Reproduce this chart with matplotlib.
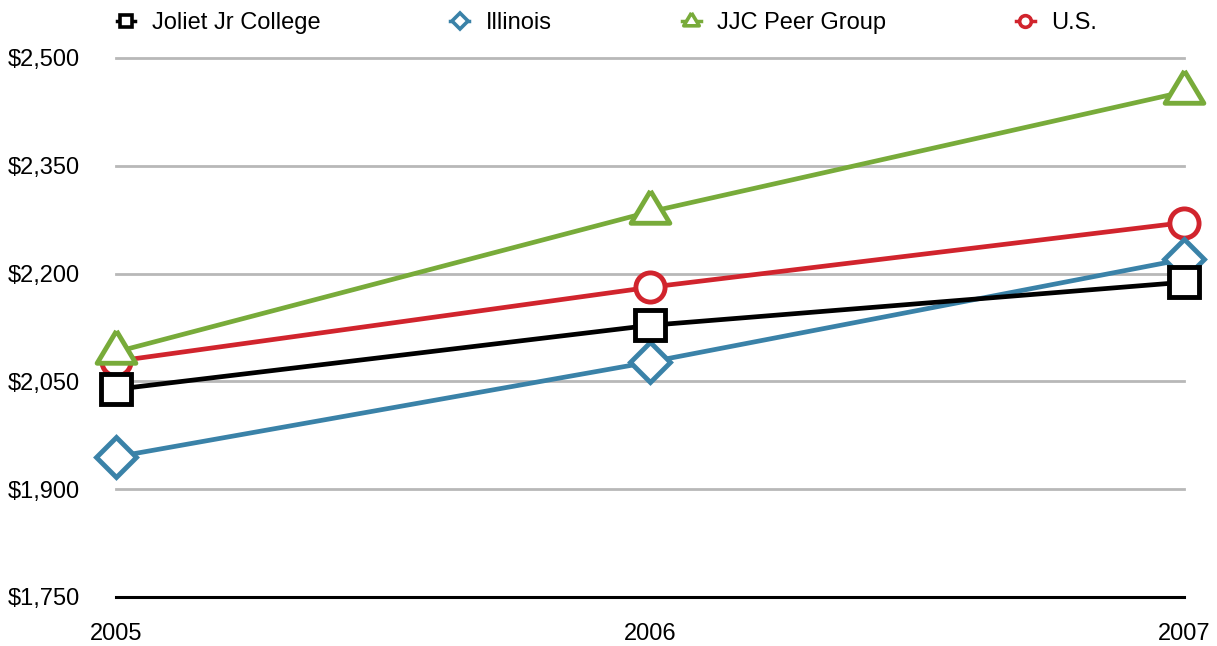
import matplotlib

matplotlib.use("Agg")

import matplotlib.pyplot as plt
from matplotlib.lines import Line2D
from matplotlib.ticker import FuncFormatter

years = [2005, 2006, 2007]
series_names = ["Joliet Jr College", "Illinois", "JJC Peer Group", "U.S."]
joliet = [2039, 2128, 2188]
illinois = [1945, 2077, 2220]
peer_group = [2091, 2286, 2453]
us = [2078, 2181, 2271]
y_ticks = [1750, 1900, 2050, 2200, 2350, 2500]

# triangle with centroid on the data point, wider than tall
tri = [(0, 1.0), (-0.9, -0.5), (0.9, -0.5), (0, 1.0)]

styles = [
    dict(color="#000000", marker="s", ms=21),
    dict(color="#3a82a8", marker="D", ms=20),
    dict(color="#78ab3a", marker=tri, ms=31),
    dict(color="#d1242d", marker="o", ms=21),
]
values = [joliet, illinois, peer_group, us]

plt.rcParams["font.family"] = ["Liberation Sans", "DejaVu Sans"]

fig = plt.figure(figsize=(12.17, 6.46), dpi=100)
ax = fig.add_axes([116 / 1217, 1 - 597 / 646, (1184 - 116) / 1217, (597 - 58) / 646])

ax.set_xlim(2005, 2007)
ax.set_ylim(1750, 2500)
ax.set_yticks(y_ticks)
ax.set_xticks(years)
ax.yaxis.set_major_formatter(FuncFormatter(lambda v, p: f"${v:,.0f}"))
ax.xaxis.set_major_formatter(FuncFormatter(lambda v, p: f"{v:.0f}"))

for y in y_ticks[1:]:
    ax.axhline(y, color="#b8b8b8", lw=2, zorder=1, clip_on=False)

for s in ["top", "right", "left"]:
    ax.spines[s].set_visible(False)
ax.spines["bottom"].set_linewidth(2.2)
ax.tick_params(length=0, labelsize=17)
ax.tick_params(axis="y", pad=26)
ax.tick_params(axis="x", pad=19)

# draw back to front so Joliet sits on top
for i in reversed(range(len(series_names))):
    st = styles[i]
    ax.plot(years, values[i], color=st["color"], lw=3.4, marker=st["marker"],
            ms=st["ms"], mew=3.5, mfc="white", mec=st["color"],
            clip_on=False, zorder=3 + (len(series_names) - i))

handles = []
for i, name in enumerate(series_names):
    st = styles[i]
    handles.append(Line2D([], [], color=st["color"], lw=2.5, marker=st["marker"],
                          ms=st["ms"] * 0.4, mew=2.6, mfc="white", mec=st["color"]))

fig.legend(handles, series_names, loc="center left", bbox_to_anchor=(116.5 / 1217, 1 - 23 / 646),
           ncol=4, frameon=False, fontsize=17, borderpad=0, borderaxespad=0,
           handlelength=0.8, handletextpad=0.7, columnspacing=5.5)

fig.savefig("out.png", dpi=100)
